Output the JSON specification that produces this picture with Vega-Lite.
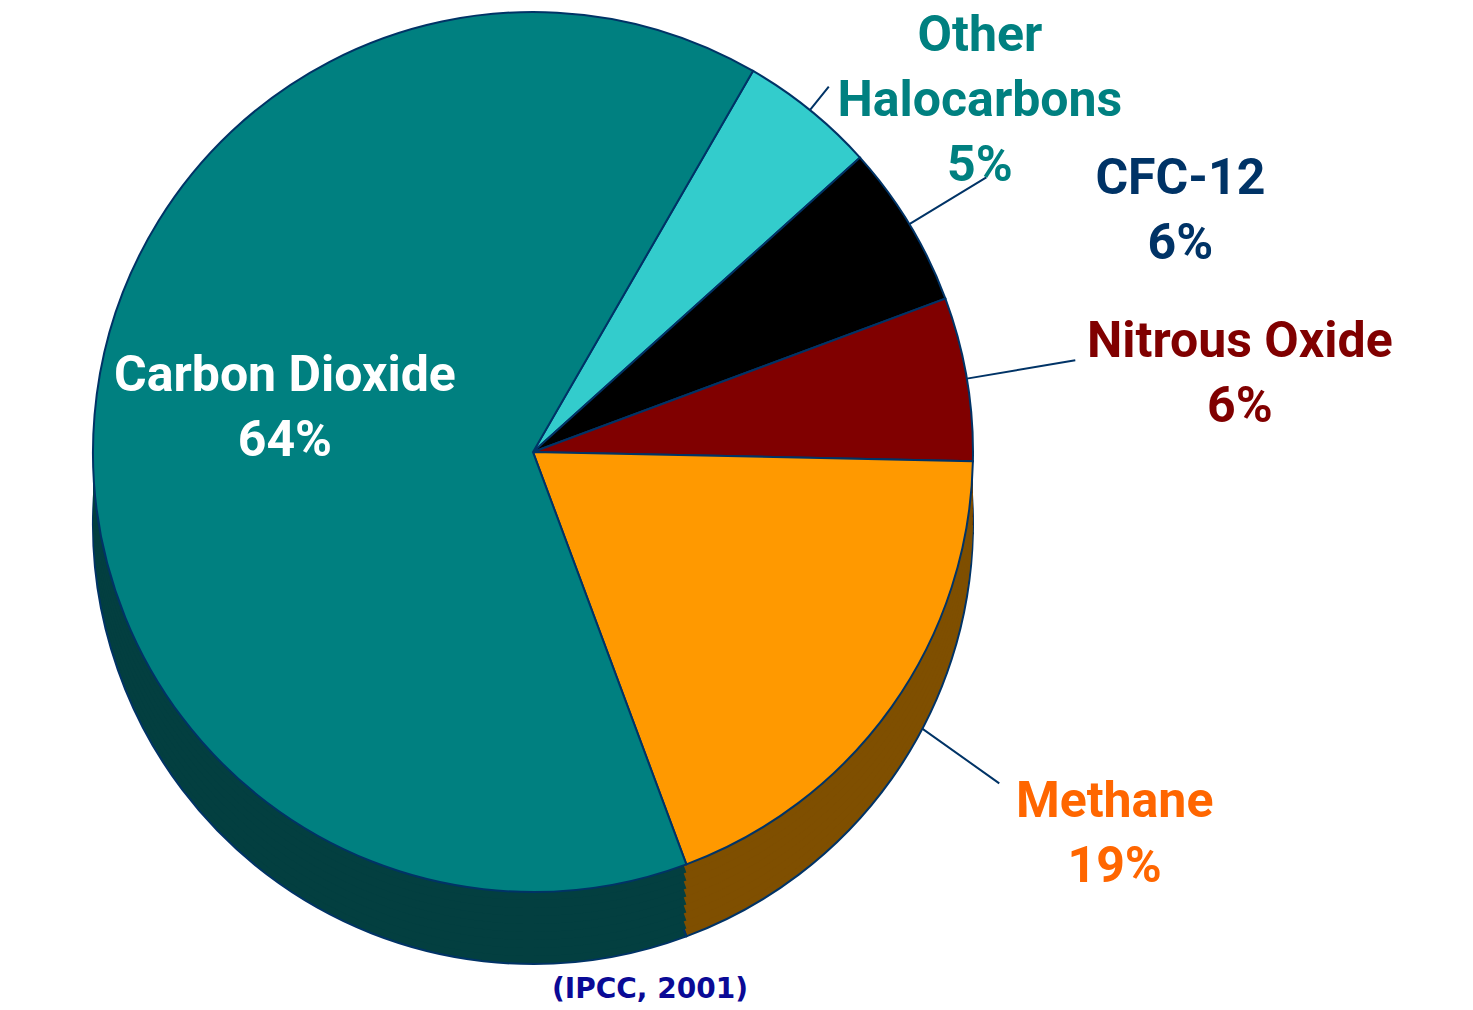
{
  "$schema": "https://vega.github.io/schema/vega-lite/v6.json",
  "width": 1066,
  "height": 904,
  "autosize": {"type": "none"},
  "padding": {"left": 0, "top": 0, "right": 407, "bottom": 106},
  "background": "white",
  "config": {"view": {"stroke": null}},
  "title": {
    "text": "(IPCC, 2001)",
    "orient": "bottom",
    "anchor": "middle",
    "frame": "group",
    "dx": 117,
    "offset": -5,
    "font": "DejaVu Sans",
    "fontSize": 28,
    "fontWeight": "bold",
    "color": "#0A0A96"
  },
  "data": {
    "values": [
      {"gas": "Other Halocarbons", "value": 5, "rank": 1, "label": "Other\nHalocarbons\n5%"},
      {"gas": "CFC-12", "value": 6, "rank": 2, "label": "CFC-12\n6%"},
      {"gas": "Nitrous Oxide", "value": 6, "rank": 3, "label": "Nitrous Oxide\n6%"},
      {"gas": "Methane", "value": 19, "rank": 4, "label": "Methane\n19%"},
      {"gas": "Carbon Dioxide", "value": 64, "rank": 5, "label": "Carbon Dioxide\n64%"}
    ]
  },
  "resolve": {"scale": {"fill": "independent", "stroke": "independent"}},
  "layer": [
    {
      "mark": {"type": "arc", "filled": false, "innerRadius": 440, "outerRadius": 470, "padAngle": 1.325, "strokeWidth": 2},
      "encoding": {
        "theta": {"field": "value", "type": "quantitative", "stack": true, "scale": {"range": [0.5236, 6.8068]}},
        "order": {"field": "rank", "type": "quantitative"},
        "stroke": {"condition": {"test": "datum.gas === 'Other Halocarbons'", "value": "#003366"}, "value": "transparent"}
      }
    },
    {
      "mark": {"type": "arc", "filled": false, "innerRadius": 440, "outerRadius": 530, "padAngle": 1.225, "strokeWidth": 2},
      "encoding": {
        "theta": {"field": "value", "type": "quantitative", "stack": true, "scale": {"range": [0.5236, 6.8068]}},
        "order": {"field": "rank", "type": "quantitative"},
        "stroke": {"condition": {"test": "datum.gas === 'CFC-12'", "value": "#003366"}, "value": "transparent"}
      }
    },
    {
      "mark": {"type": "arc", "filled": false, "innerRadius": 440, "outerRadius": 550, "padAngle": 1.194, "strokeWidth": 2},
      "encoding": {
        "theta": {"field": "value", "type": "quantitative", "stack": true, "scale": {"range": [0.5236, 6.8068]}},
        "order": {"field": "rank", "type": "quantitative"},
        "stroke": {"condition": {"test": "datum.gas === 'Nitrous Oxide'", "value": "#003366"}, "value": "transparent"}
      }
    },
    {
      "mark": {"type": "arc", "filled": false, "innerRadius": 440, "outerRadius": 572, "padAngle": 1.160, "strokeWidth": 2},
      "encoding": {
        "theta": {"field": "value", "type": "quantitative", "stack": true, "scale": {"range": [0.5236, 6.8068]}},
        "order": {"field": "rank", "type": "quantitative"},
        "stroke": {"condition": {"test": "datum.gas === 'Methane'", "value": "#003366"}, "value": "transparent"}
      }
    },
    {
      "mark": {"type": "arc", "radius": 440, "yOffset": 72, "stroke": "#003366", "strokeWidth": 2},
      "encoding": {
        "theta": {"field": "value", "type": "quantitative", "stack": true, "scale": {"range": [0.5236, 6.8068]}},
        "order": {"field": "rank", "type": "quantitative"},
        "fill": {"field": "gas", "type": "nominal", "legend": null,
          "scale": {"domain": ["Other Halocarbons", "CFC-12", "Nitrous Oxide", "Methane", "Carbon Dioxide"], "range": ["#1A6666", "#000000", "#400000", "#7F4F00", "#033F40"]}}
      }
    },
    {
      "mark": {"type": "arc", "radius": 440, "yOffset": 64},
      "encoding": {
        "theta": {"field": "value", "type": "quantitative", "stack": true, "scale": {"range": [0.5236, 6.8068]}},
        "order": {"field": "rank", "type": "quantitative"},
        "fill": {"field": "gas", "type": "nominal", "legend": null,
          "scale": {"domain": ["Other Halocarbons", "CFC-12", "Nitrous Oxide", "Methane", "Carbon Dioxide"], "range": ["#1A6666", "#000000", "#400000", "#7F4F00", "#033F40"]}}
      }
    },
    {
      "mark": {"type": "arc", "radius": 440, "yOffset": 56},
      "encoding": {
        "theta": {"field": "value", "type": "quantitative", "stack": true, "scale": {"range": [0.5236, 6.8068]}},
        "order": {"field": "rank", "type": "quantitative"},
        "fill": {"field": "gas", "type": "nominal", "legend": null,
          "scale": {"domain": ["Other Halocarbons", "CFC-12", "Nitrous Oxide", "Methane", "Carbon Dioxide"], "range": ["#1A6666", "#000000", "#400000", "#7F4F00", "#033F40"]}}
      }
    },
    {
      "mark": {"type": "arc", "radius": 440, "yOffset": 48},
      "encoding": {
        "theta": {"field": "value", "type": "quantitative", "stack": true, "scale": {"range": [0.5236, 6.8068]}},
        "order": {"field": "rank", "type": "quantitative"},
        "fill": {"field": "gas", "type": "nominal", "legend": null,
          "scale": {"domain": ["Other Halocarbons", "CFC-12", "Nitrous Oxide", "Methane", "Carbon Dioxide"], "range": ["#1A6666", "#000000", "#400000", "#7F4F00", "#033F40"]}}
      }
    },
    {
      "mark": {"type": "arc", "radius": 440, "yOffset": 40},
      "encoding": {
        "theta": {"field": "value", "type": "quantitative", "stack": true, "scale": {"range": [0.5236, 6.8068]}},
        "order": {"field": "rank", "type": "quantitative"},
        "fill": {"field": "gas", "type": "nominal", "legend": null,
          "scale": {"domain": ["Other Halocarbons", "CFC-12", "Nitrous Oxide", "Methane", "Carbon Dioxide"], "range": ["#1A6666", "#000000", "#400000", "#7F4F00", "#033F40"]}}
      }
    },
    {
      "mark": {"type": "arc", "radius": 440, "yOffset": 32},
      "encoding": {
        "theta": {"field": "value", "type": "quantitative", "stack": true, "scale": {"range": [0.5236, 6.8068]}},
        "order": {"field": "rank", "type": "quantitative"},
        "fill": {"field": "gas", "type": "nominal", "legend": null,
          "scale": {"domain": ["Other Halocarbons", "CFC-12", "Nitrous Oxide", "Methane", "Carbon Dioxide"], "range": ["#1A6666", "#000000", "#400000", "#7F4F00", "#033F40"]}}
      }
    },
    {
      "mark": {"type": "arc", "radius": 440, "yOffset": 24},
      "encoding": {
        "theta": {"field": "value", "type": "quantitative", "stack": true, "scale": {"range": [0.5236, 6.8068]}},
        "order": {"field": "rank", "type": "quantitative"},
        "fill": {"field": "gas", "type": "nominal", "legend": null,
          "scale": {"domain": ["Other Halocarbons", "CFC-12", "Nitrous Oxide", "Methane", "Carbon Dioxide"], "range": ["#1A6666", "#000000", "#400000", "#7F4F00", "#033F40"]}}
      }
    },
    {
      "mark": {"type": "arc", "radius": 440, "yOffset": 16},
      "encoding": {
        "theta": {"field": "value", "type": "quantitative", "stack": true, "scale": {"range": [0.5236, 6.8068]}},
        "order": {"field": "rank", "type": "quantitative"},
        "fill": {"field": "gas", "type": "nominal", "legend": null,
          "scale": {"domain": ["Other Halocarbons", "CFC-12", "Nitrous Oxide", "Methane", "Carbon Dioxide"], "range": ["#1A6666", "#000000", "#400000", "#7F4F00", "#033F40"]}}
      }
    },
    {
      "mark": {"type": "arc", "radius": 440, "yOffset": 8},
      "encoding": {
        "theta": {"field": "value", "type": "quantitative", "stack": true, "scale": {"range": [0.5236, 6.8068]}},
        "order": {"field": "rank", "type": "quantitative"},
        "fill": {"field": "gas", "type": "nominal", "legend": null,
          "scale": {"domain": ["Other Halocarbons", "CFC-12", "Nitrous Oxide", "Methane", "Carbon Dioxide"], "range": ["#1A6666", "#000000", "#400000", "#7F4F00", "#033F40"]}}
      }
    },
    {
      "mark": {"type": "arc", "radius": 440, "stroke": "#003366", "strokeWidth": 2},
      "encoding": {
        "theta": {"field": "value", "type": "quantitative", "stack": true, "scale": {"range": [0.5236, 6.8068]}},
        "order": {"field": "rank", "type": "quantitative"},
        "fill": {"field": "gas", "type": "nominal", "legend": null,
          "scale": {"domain": ["Other Halocarbons", "CFC-12", "Nitrous Oxide", "Methane", "Carbon Dioxide"], "range": ["#33CCCC", "#000000", "#800000", "#FF9900", "#008080"]}}
      }
    },
    {
      "mark": {"type": "text", "radius": 440, "dx": 170, "dy": -74, "fill": "#008080", "font": "Roboto", "fontSize": 50, "fontWeight": "bold", "lineBreak": "\n", "lineHeight": 65, "align": "center", "baseline": "middle"},
      "encoding": {
        "theta": {"field": "value", "type": "quantitative", "stack": true, "scale": {"range": [0.5236, 6.8068]}},
        "order": {"field": "rank", "type": "quantitative"},
        "text": {"condition": {"test": "datum.gas === 'Other Halocarbons'", "field": "label", "type": "nominal"}, "value": ""}
      }
    },
    {
      "mark": {"type": "text", "radius": 440, "dx": 271, "dy": -45, "fill": "#003366", "font": "Roboto", "fontSize": 50, "fontWeight": "bold", "lineBreak": "\n", "lineHeight": 65, "align": "center", "baseline": "middle"},
      "encoding": {
        "theta": {"field": "value", "type": "quantitative", "stack": true, "scale": {"range": [0.5236, 6.8068]}},
        "order": {"field": "rank", "type": "quantitative"},
        "text": {"condition": {"test": "datum.gas === 'CFC-12'", "field": "label", "type": "nominal"}, "value": ""}
      }
    },
    {
      "mark": {"type": "text", "radius": 440, "dx": 273, "dy": -37, "fill": "#800000", "font": "Roboto", "fontSize": 50, "fontWeight": "bold", "lineBreak": "\n", "lineHeight": 65, "align": "center", "baseline": "middle"},
      "encoding": {
        "theta": {"field": "value", "type": "quantitative", "stack": true, "scale": {"range": [0.5236, 6.8068]}},
        "order": {"field": "rank", "type": "quantitative"},
        "text": {"condition": {"test": "datum.gas === 'Nitrous Oxide'", "field": "label", "type": "nominal"}, "value": ""}
      }
    },
    {
      "mark": {"type": "text", "radius": 440, "dx": 223, "dy": 95, "fill": "#FF6600", "font": "Roboto", "fontSize": 50, "fontWeight": "bold", "lineBreak": "\n", "lineHeight": 65, "align": "center", "baseline": "middle"},
      "encoding": {
        "theta": {"field": "value", "type": "quantitative", "stack": true, "scale": {"range": [0.5236, 6.8068]}},
        "order": {"field": "rank", "type": "quantitative"},
        "text": {"condition": {"test": "datum.gas === 'Methane'", "field": "label", "type": "nominal"}, "value": ""}
      }
    },
    {
      "mark": {"type": "text", "radius": 260, "dx": 11, "dy": -54, "fill": "#FFFFFF", "font": "Roboto", "fontSize": 50, "fontWeight": "bold", "lineBreak": "\n", "lineHeight": 65, "align": "center", "baseline": "middle"},
      "encoding": {
        "theta": {"field": "value", "type": "quantitative", "stack": true, "scale": {"range": [0.5236, 6.8068]}},
        "order": {"field": "rank", "type": "quantitative"},
        "text": {"condition": {"test": "datum.gas === 'Carbon Dioxide'", "field": "label", "type": "nominal"}, "value": ""}
      }
    }
  ]
}
